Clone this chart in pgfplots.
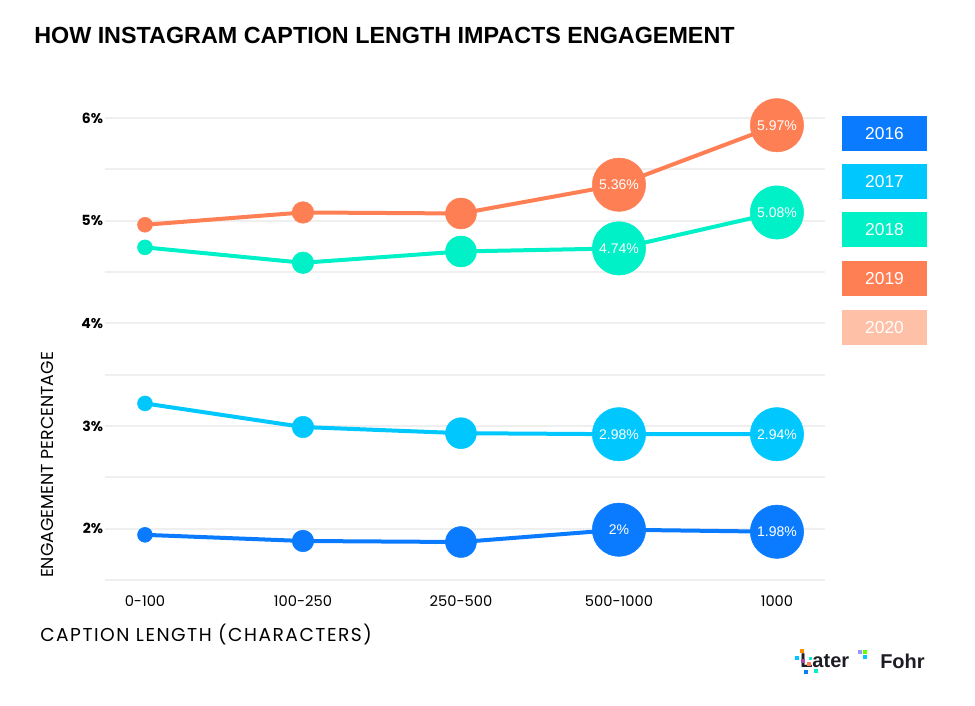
\documentclass[border=0pt]{standalone}
\usepackage{pgfplots}
\pgfplotsset{compat=1.18}
\usepackage{pgfplotstable}
\usepackage{fontspec}
\setmainfont{Liberation Sans}
\newfontfamily\pop{Poppins}
\definecolor{c16}{HTML}{0A7BFF}
\definecolor{c17}{HTML}{00C8FF}
\definecolor{c18}{HTML}{00F0C8}
\definecolor{c19}{HTML}{FF7F55}
\definecolor{c20}{HTML}{FFC0A8}
\definecolor{gridc}{HTML}{EFEFEF}
\definecolor{logoc}{HTML}{1C1C24}

\pgfplotstableread{
x y lab
0 1.94 0
1 1.88 0
2 1.87 0
3 1.99 2
4 1.97 1.98
}\tsixteen
\pgfplotstableread{
x y lab
0 3.22 0
1 2.99 0
2 2.93 0
3 2.92 2.98
4 2.92 2.94
}\tseventeen
\pgfplotstableread{
x y lab
0 4.74 0
1 4.59 0
2 4.70 0
3 4.73 4.74
4 5.08 5.08
}\teighteen
\pgfplotstableread{
x y lab
0 4.96 0
1 5.08 0
2 5.07 0
3 5.35 5.36
4 5.93 5.97
}\tnineteen

\newcommand\series[2]{%
 \addplot[line width=3pt, color=#1, no marks] table[x=x,y=y] {#2};
 \addplot[only marks, mark=*, color=#1, mark size=5.6pt, restrict x to domain=-0.2:0.2] table[x=x,y=y] {#2};
 \addplot[only marks, mark=*, color=#1, mark size=8.1pt, restrict x to domain=0.8:1.2] table[x=x,y=y] {#2};
 \addplot[only marks, mark=*, color=#1, mark size=11.6pt, restrict x to domain=1.8:2.2] table[x=x,y=y] {#2};
 \addplot[only marks, mark=*, color=#1, mark size=20pt, restrict x to domain=2.8:4.2,
   point meta=explicit symbolic, nodes near coords={\pgfplotspointmeta\%},
   every node near coord/.append style={anchor=center, text=white, font=\fontsize{10.5}{12}\selectfont}]
   table[x=x,y=y,meta=lab] {#2};
}

\begin{document}
\begin{tikzpicture}
\path[use as bounding box] (0,0) rectangle (731.25pt,-529.5pt);
\begin{axis}[
  at={(78.75pt,-435pt)}, anchor=south west,
  scale only axis, width=540pt, height=346.5pt,
  xmin=-0.253, xmax=4.304, ymin=1.5, ymax=6,
  clip=false,
  axis line style={draw=none},
  tick style={draw=none},
  xtick={0,1,2,3,4},
  xticklabels={0-100,100-250,250-500,500-1000,1000},
  ytick={2,3,4,5,6},
  yticklabels={2\%,3\%,4\%,5\%,6\%},
  minor ytick={1.5,2.5,3.5,4.5,5.5},
  ymajorgrids, yminorgrids,
  major grid style={gridc, line width=1.5pt},
  minor grid style={gridc, line width=1.5pt},
  xticklabel style={font=\pop\fontsize{11}{13}\selectfont, yshift=-8pt},
  yticklabel style={font=\pop\bfseries\fontsize{10.5}{13}\selectfont, xshift=2pt},
]
\series{c16}{\tsixteen}
\series{c17}{\tseventeen}
\series{c18}{\teighteen}
\series{c19}{\tnineteen}
\end{axis}
\begin{scope}[x=0.75pt,y=-0.75pt]
\node[anchor=west, inner sep=0pt, font=\bfseries\fontsize{17.5}{20}\selectfont] at (34,35) {HOW INSTAGRAM CAPTION LENGTH IMPACTS ENGAGEMENT};
\node[rotate=90, inner sep=0pt, font=\pop\fontsize{13}{15}\selectfont] at (47,465) {ENGAGEMENT PERCENTAGE};
\node[anchor=west, inner sep=0pt, font=\pop\fontsize{14}{16}\selectfont\addfontfeatures{LetterSpace=8}] at (40,635) {CAPTION LENGTH (CHARACTERS)};
% legend boxes
\foreach \c/\t/\yy in {c16/2016/116,c17/2017/164,c18/2018/212,c19/2019/261,c20/2020/310}{
  \fill[\c] (842,\yy) rectangle (927,\yy+35);
  \node[text=white, font=\fontsize{13}{15}\selectfont] at (884.5,\yy+17.5) {\t};
}
% logos
\node[anchor=west, inner sep=0pt, text=logoc, font=\bfseries\fontsize{15}{17}\selectfont] at (800,661) {Later};
\node[anchor=west, inner sep=0pt, text=logoc, font=\bfseries\fontsize{15}{17}\selectfont] at (880,661) {Fohr};
\fill[orange!90!yellow] (800,649) rectangle (804,653);
\fill[c17] (795,656) rectangle (799,660);
\fill[violet!70] (801,659) rectangle (805,663);
\fill[c18] (809,657) rectangle (812,660);
\fill[c19] (807,662) rectangle (811,666);
\fill[c16] (804,670) rectangle (808,674);
\fill[c18] (814,669) rectangle (818,673);
\fill[blue!40] (858,650) rectangle (862,654);
\fill[green!60!yellow] (863,650) rectangle (867,654);
\fill[c17] (863,655) rectangle (867,659);
\end{scope}
\end{tikzpicture}
\end{document}
